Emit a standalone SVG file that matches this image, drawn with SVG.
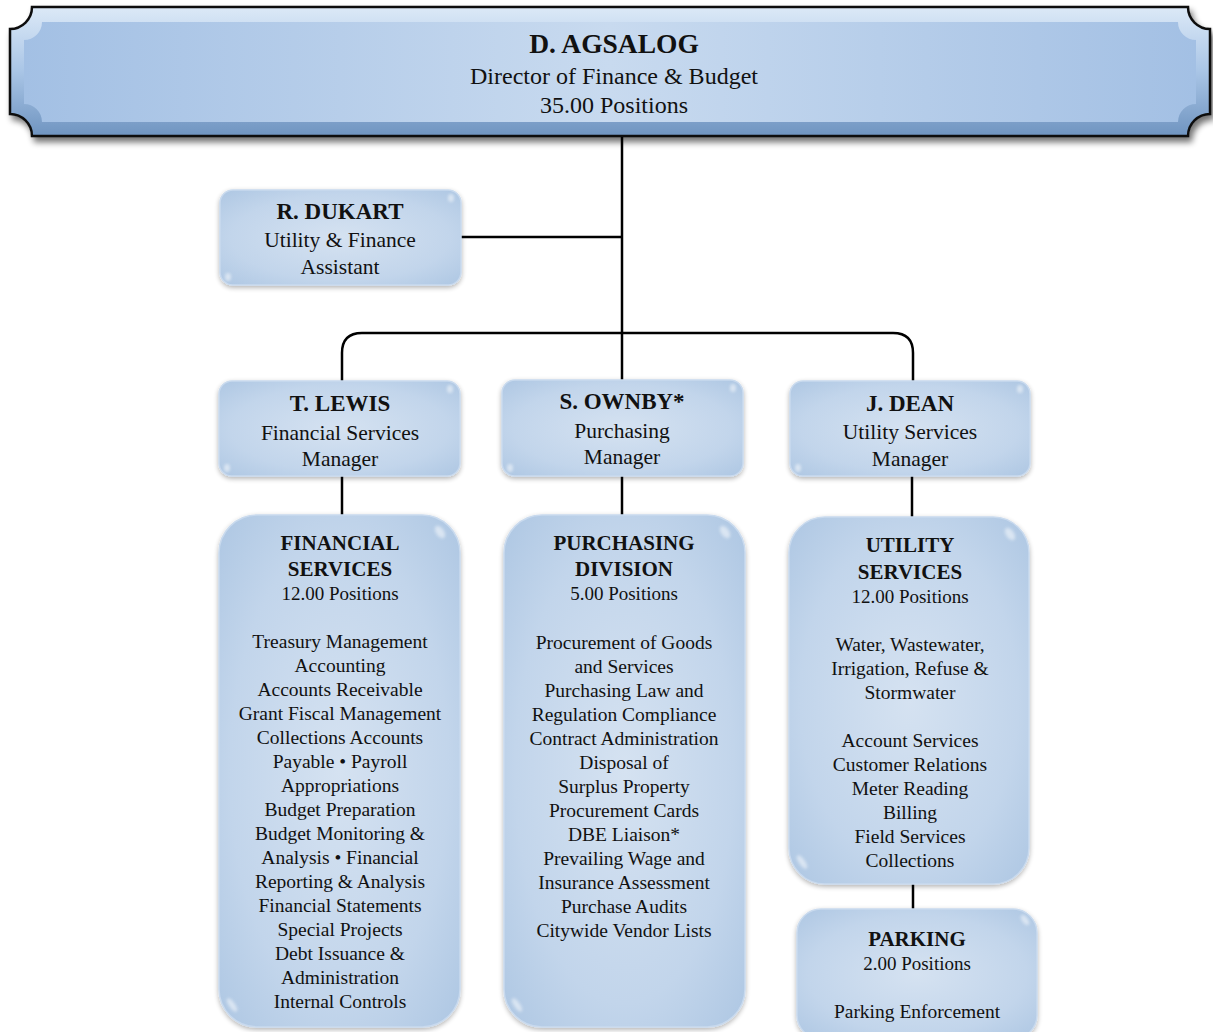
<svg xmlns="http://www.w3.org/2000/svg" width="1213" height="1032" viewBox="0 0 1213 1032">
  <defs>
    <style>
      text { font-family: "Liberation Serif", "Times New Roman", serif; fill: #111; text-anchor: middle; }
      .ttl { font-size: 27.5px; font-weight: bold; }
      .sub { font-size: 24px; }
      .nm { font-size: 23px; font-weight: bold; }
      .role { font-size: 21.5px; }
      .hd { font-size: 21px; font-weight: bold; }
      .pos { font-size: 19px; }
      .li { font-size: 19.5px; }
      .box { fill: url(#boxFill); stroke: #c9daee; stroke-width: 1.5; filter: url(#soft); }
      .glint { fill: #ffffff; opacity: 0.5; filter: url(#blur2); }
      .wire { fill: none; stroke: #000; stroke-width: 2.5; }
    </style>
    <radialGradient id="boxFill" cx="50%" cy="50%" r="70%">
      <stop offset="0" stop-color="#d5e2f1"/>
      <stop offset="0.65" stop-color="#c2d5eb"/>
      <stop offset="1" stop-color="#aec7e3"/>
    </radialGradient>
    <linearGradient id="bannerFace" x1="0" y1="0" x2="1" y2="0">
      <stop offset="0" stop-color="#a3c0e4"/>
      <stop offset="0.5" stop-color="#c8daef"/>
      <stop offset="1" stop-color="#a3c0e4"/>
    </linearGradient>
    <linearGradient id="bannerBevel" x1="0" y1="0" x2="0" y2="1">
      <stop offset="0" stop-color="#dce9f7"/>
      <stop offset="0.5" stop-color="#a9c5e6"/>
      <stop offset="1" stop-color="#6f94c0"/>
    </linearGradient>
    <filter id="soft" x="-10%" y="-10%" width="120%" height="125%">
      <feGaussianBlur in="SourceAlpha" stdDeviation="2.5"/>
      <feOffset dy="2" result="b"/>
      <feComponentTransfer><feFuncA type="linear" slope="0.3"/></feComponentTransfer>
      <feMerge><feMergeNode/><feMergeNode in="SourceGraphic"/></feMerge>
    </filter>
    <filter id="bannerShadow" x="-5%" y="-20%" width="110%" height="150%">
      <feGaussianBlur in="SourceAlpha" stdDeviation="3"/>
      <feOffset dx="3" dy="5"/>
      <feComponentTransfer><feFuncA type="linear" slope="0.55"/></feComponentTransfer>
      <feMerge><feMergeNode/><feMergeNode in="SourceGraphic"/></feMerge>
    </filter>
    <filter id="blur2" x="-50%" y="-50%" width="200%" height="200%">
      <feGaussianBlur stdDeviation="1.5"/>
    </filter>
  </defs>

  <rect width="1213" height="1032" fill="#ffffff"/>

  <!-- connectors -->
  <g id="connectors">
    <path class="wire" d="M622 136 V380"/>
    <path class="wire" d="M461 237 H622"/>
    <path class="wire" d="M342 381 V353 Q342 333 362 333 H893 Q913 333 913 353 V381"/>
    <path class="wire" d="M342 476 V515"/>
    <path class="wire" d="M622 476 V515"/>
    <path class="wire" d="M912 476 V517"/>
    <path class="wire" d="M913 884 V909"/>
  </g>

  <!-- director banner -->
  <g id="director">
    <path d="M32 7 H1188 A22 22 0 0 0 1210 29 V114 A22 22 0 0 0 1188 136 H32 A22 22 0 0 0 10 114 V29 A22 22 0 0 0 32 7 Z"
          fill="url(#bannerBevel)" stroke="#111" stroke-width="2.5" filter="url(#bannerShadow)"/>
    <path d="M42 22 H1178 A18 18 0 0 0 1196 40 V104 A18 18 0 0 0 1178 122 H42 A18 18 0 0 0 24 104 V40 A18 18 0 0 0 42 22 Z"
          fill="url(#bannerFace)"/>
    <text class="ttl" x="614" y="53">D. AGSALOG</text>
    <text class="sub" x="614" y="84">Director of Finance &amp; Budget</text>
    <text class="sub" x="614" y="113">35.00 Positions</text>
  </g>

  <!-- assistant -->
  <g id="dukart">
    <rect class="box" x="220" y="190" width="241" height="95" rx="13"/>
    <ellipse class="glint" cx="451" cy="198" rx="3" ry="4"/>
    <ellipse class="glint" cx="228" cy="277" rx="3" ry="4"/>
    <text class="nm" x="340" y="219">R. DUKART</text>
    <text class="role" x="340" y="247">Utility &amp; Finance</text>
    <text class="role" x="340" y="274">Assistant</text>
  </g>

  <!-- managers -->
  <g id="lewis">
    <rect class="box" x="219" y="381" width="241" height="95" rx="13"/>
    <ellipse class="glint" cx="450" cy="389" rx="3" ry="4"/>
    <ellipse class="glint" cx="227" cy="468" rx="3" ry="4"/>
    <text class="nm" x="340" y="411">T. LEWIS</text>
    <text class="role" x="340" y="440">Financial Services</text>
    <text class="role" x="340" y="466">Manager</text>
  </g>

  <g id="ownby">
    <rect class="box" x="502" y="380" width="241" height="96" rx="13"/>
    <ellipse class="glint" cx="733" cy="388" rx="3" ry="4"/>
    <ellipse class="glint" cx="510" cy="468" rx="3" ry="4"/>
    <text class="nm" x="622" y="409">S. OWNBY*</text>
    <text class="role" x="622" y="438">Purchasing</text>
    <text class="role" x="622" y="464">Manager</text>
  </g>

  <g id="dean">
    <rect class="box" x="790" y="381" width="240" height="95" rx="13"/>
    <ellipse class="glint" cx="1020" cy="389" rx="3" ry="4"/>
    <ellipse class="glint" cx="798" cy="468" rx="3" ry="4"/>
    <text class="nm" x="910" y="411">J. DEAN</text>
    <text class="role" x="910" y="439">Utility Services</text>
    <text class="role" x="910" y="466">Manager</text>
  </g>

  <!-- divisions -->
  <g id="financial-services">
    <rect class="box" x="219" y="515" width="241" height="512" rx="38"/>
    <ellipse class="glint" cx="440" cy="532" rx="4" ry="7" transform="rotate(-35 440 532)"/>
    <ellipse class="glint" cx="232" cy="1005" rx="3" ry="8" transform="rotate(-35 232 1005)"/>
    <text class="hd" x="340" y="550">FINANCIAL</text>
    <text class="hd" x="340" y="576">SERVICES</text>
    <text class="pos" x="340" y="600">12.00 Positions</text>
    <text class="li" x="340" y="648">Treasury Management</text>
    <text class="li" x="340" y="672">Accounting</text>
    <text class="li" x="340" y="696">Accounts Receivable</text>
    <text class="li" x="340" y="720">Grant Fiscal Management</text>
    <text class="li" x="340" y="744">Collections Accounts</text>
    <text class="li" x="340" y="768">Payable • Payroll</text>
    <text class="li" x="340" y="792">Appropriations</text>
    <text class="li" x="340" y="816">Budget Preparation</text>
    <text class="li" x="340" y="840">Budget Monitoring &amp;</text>
    <text class="li" x="340" y="864">Analysis • Financial</text>
    <text class="li" x="340" y="888">Reporting &amp; Analysis</text>
    <text class="li" x="340" y="912">Financial Statements</text>
    <text class="li" x="340" y="936">Special Projects</text>
    <text class="li" x="340" y="960">Debt Issuance &amp;</text>
    <text class="li" x="340" y="984">Administration</text>
    <text class="li" x="340" y="1008">Internal Controls</text>
  </g>

  <g id="purchasing-division">
    <rect class="box" x="504" y="515" width="241" height="512" rx="38"/>
    <ellipse class="glint" cx="725" cy="532" rx="4" ry="7" transform="rotate(-35 725 532)"/>
    <ellipse class="glint" cx="517" cy="1005" rx="3" ry="8" transform="rotate(-35 517 1005)"/>
    <text class="hd" x="624" y="550">PURCHASING</text>
    <text class="hd" x="624" y="576">DIVISION</text>
    <text class="pos" x="624" y="600">5.00 Positions</text>
    <text class="li" x="624" y="649">Procurement of Goods</text>
    <text class="li" x="624" y="673">and Services</text>
    <text class="li" x="624" y="697">Purchasing Law and</text>
    <text class="li" x="624" y="721">Regulation Compliance</text>
    <text class="li" x="624" y="745">Contract Administration</text>
    <text class="li" x="624" y="769">Disposal of</text>
    <text class="li" x="624" y="793">Surplus Property</text>
    <text class="li" x="624" y="817">Procurement Cards</text>
    <text class="li" x="624" y="841">DBE Liaison*</text>
    <text class="li" x="624" y="865">Prevailing Wage and</text>
    <text class="li" x="624" y="889">Insurance Assessment</text>
    <text class="li" x="624" y="913">Purchase Audits</text>
    <text class="li" x="624" y="937">Citywide Vendor Lists</text>
  </g>

  <g id="utility-services">
    <rect class="box" x="789" y="517" width="240" height="367" rx="36"/>
    <ellipse class="glint" cx="1010" cy="534" rx="4" ry="7" transform="rotate(-35 1010 534)"/>
    <ellipse class="glint" cx="802" cy="862" rx="3" ry="8" transform="rotate(-35 802 862)"/>
    <text class="hd" x="910" y="552">UTILITY</text>
    <text class="hd" x="910" y="579">SERVICES</text>
    <text class="pos" x="910" y="603">12.00 Positions</text>
    <text class="li" x="910" y="651">Water, Wastewater,</text>
    <text class="li" x="910" y="675">Irrigation, Refuse &amp;</text>
    <text class="li" x="910" y="699">Stormwater</text>
    <text class="li" x="910" y="747">Account Services</text>
    <text class="li" x="910" y="771">Customer Relations</text>
    <text class="li" x="910" y="795">Meter Reading</text>
    <text class="li" x="910" y="819">Billing</text>
    <text class="li" x="910" y="843">Field Services</text>
    <text class="li" x="910" y="867">Collections</text>
  </g>

  <g id="parking">
    <rect class="box" x="797" y="909" width="240" height="130" rx="24"/>
    <ellipse class="glint" cx="1025" cy="920" rx="3" ry="6" transform="rotate(-35 1025 920)"/>
    <text class="hd" x="917" y="946">PARKING</text>
    <text class="pos" x="917" y="970">2.00 Positions</text>
    <text class="li" x="917" y="1018">Parking Enforcement</text>
  </g>
</svg>
